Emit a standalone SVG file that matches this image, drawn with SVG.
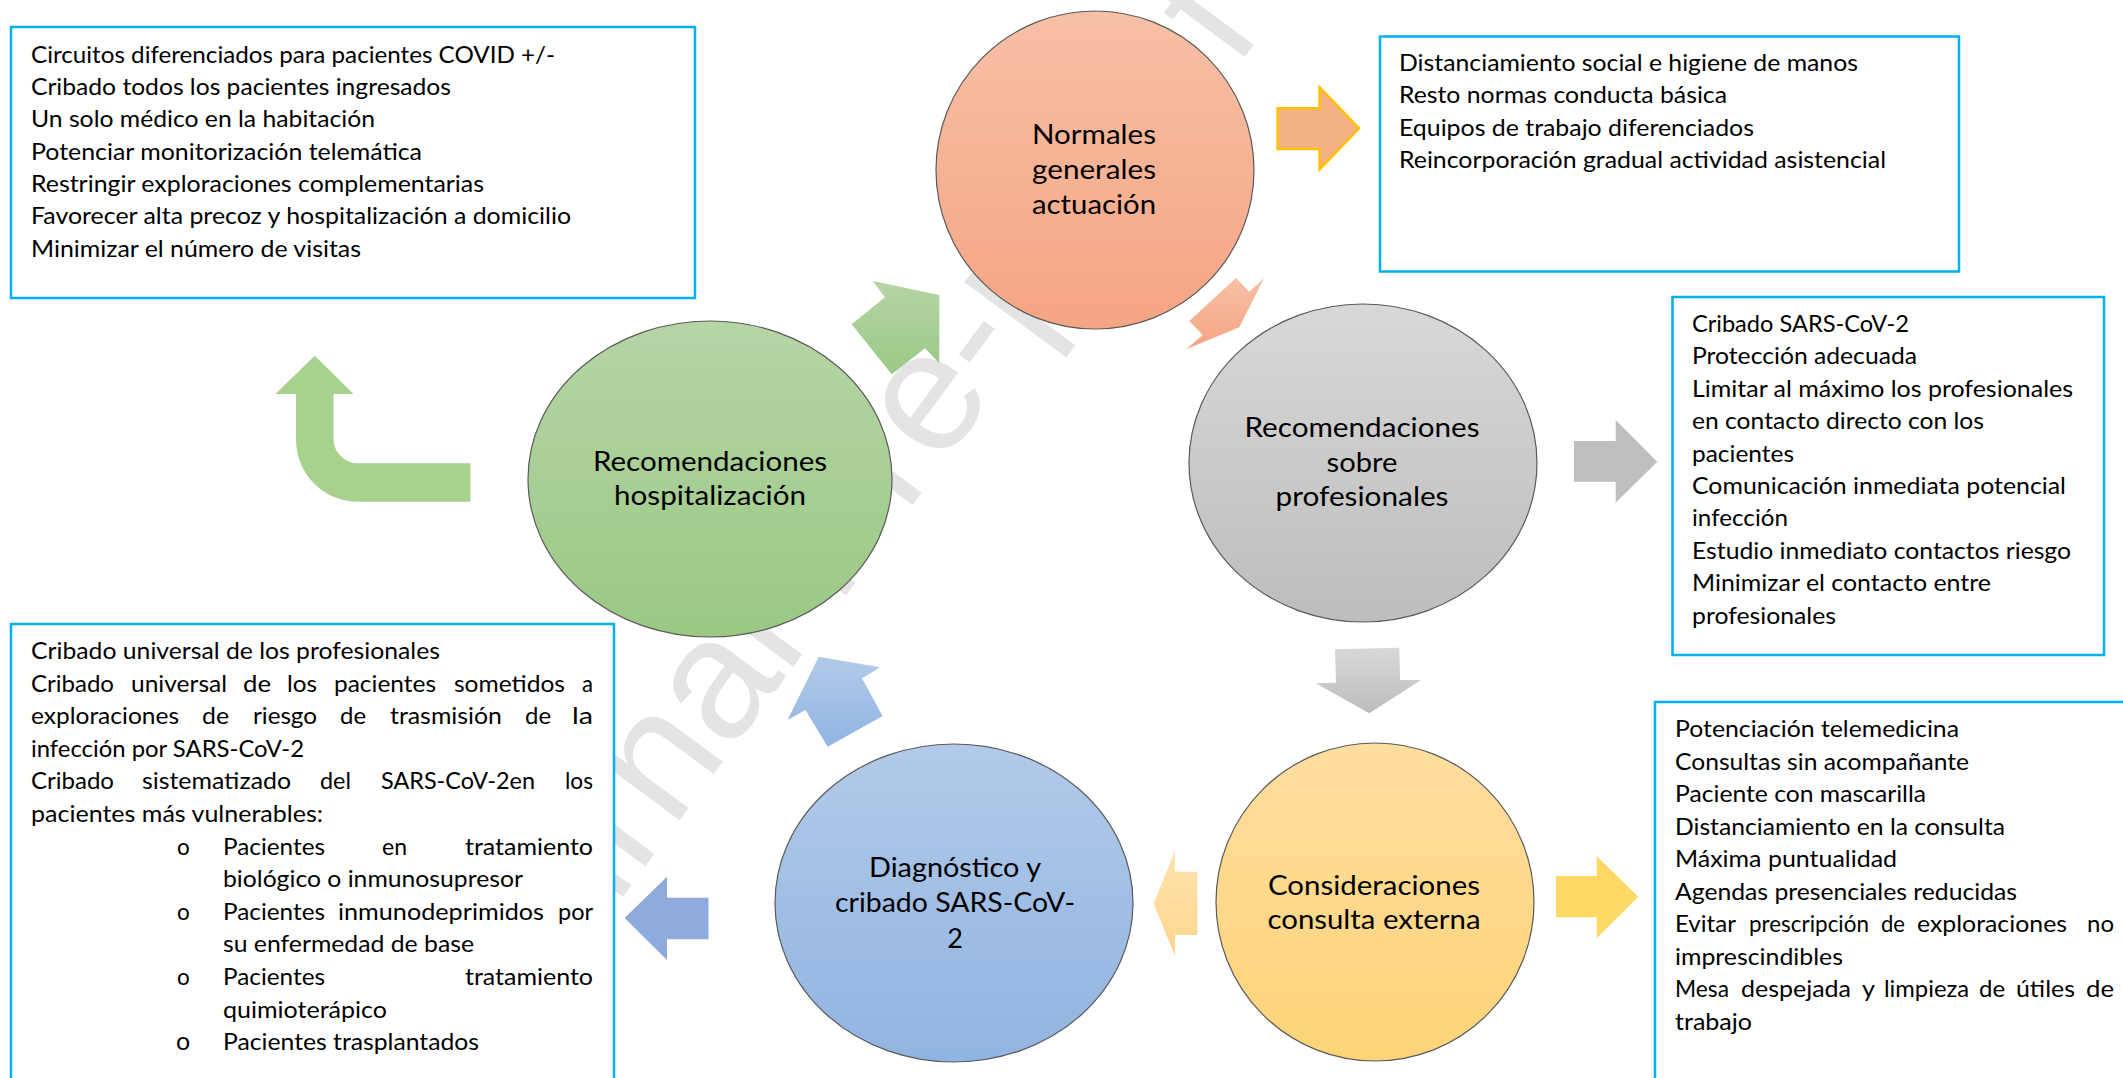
<svg xmlns="http://www.w3.org/2000/svg" width="2123" height="1078" viewBox="0 0 2123 1078">
<style>
.box{fill:#fff;stroke:#00B0F0;stroke-width:2.5}
.t{font-family:Lato,"Open Sans","Liberation Sans",sans-serif;font-size:22.5px;fill:#000}
.c{font-family:Lato,"Open Sans","Liberation Sans",sans-serif;font-size:27px;fill:#000;text-anchor:middle}
.node{stroke:#5a5a5a;stroke-width:1.2}
.wm{font-family:"Liberation Sans",Arial,sans-serif;font-size:172px;fill:#E4E4E4}
</style>
<defs>
<linearGradient id="gO" x1="0" y1="0" x2="0" y2="1"><stop offset="0" stop-color="#F7C0A6"/><stop offset="1" stop-color="#F5A583"/></linearGradient>
<linearGradient id="gG" x1="0" y1="0" x2="0" y2="1"><stop offset="0" stop-color="#B5D5A5"/><stop offset="1" stop-color="#9BC885"/></linearGradient>
<linearGradient id="gS" x1="0" y1="0" x2="0" y2="1"><stop offset="0" stop-color="#D8D8D8"/><stop offset="1" stop-color="#BDBDBD"/></linearGradient>
<linearGradient id="gB" x1="0" y1="0" x2="0" y2="1"><stop offset="0" stop-color="#B2CAE9"/><stop offset="1" stop-color="#90B4E1"/></linearGradient>
<linearGradient id="gY" x1="0" y1="0" x2="0" y2="1"><stop offset="0" stop-color="#FEDE9F"/><stop offset="1" stop-color="#FED478"/></linearGradient>
<linearGradient id="gYl" x1="0" y1="0" x2="0" y2="1"><stop offset="0" stop-color="#FEE3AE"/><stop offset="1" stop-color="#FDD68D"/></linearGradient>
</defs>

<text class="wm" transform="translate(473.4,1098.7) rotate(-53.5)">Journal Pre-proof</text>

<g id="connectors">
<polygon id="arrow-normales-box" points="1277.6,108.3 1319.6,108.3 1319.6,87.3 1359,128.3 1319.6,169.3 1319.6,149 1277.6,149" fill="#F4B183" stroke="#FFC000" stroke-width="2.5"/>
<polygon id="arrow-normales-profesionales" points="1236,278 1249.3,291.7 1264,278.3 1239.3,327.3 1186,349.3 1202.7,335 1189.3,321" fill="url(#gO)"/>
<polygon id="arrow-profesionales-box" points="1574,441 1615.7,441 1615.7,420 1657.3,461.7 1615.7,502.7 1615.7,481.7 1574,481.7" fill="#BFBFBF"/>
<polygon id="arrow-profesionales-consulta" points="1335,649.3 1399.3,647.7 1400,680 1421,680 1369.3,713.3 1315.7,683.3 1336,682.7" fill="url(#gS)"/>
<polygon id="arrow-consulta-box" points="1556,876 1596.7,876 1596.7,856 1638.3,896.7 1596.7,938.3 1596.7,917.3 1556,917.3" fill="#FFD966"/>
<polygon id="arrow-consulta-diagnostico" points="1197.5,871.7 1175,871.7 1175,851 1153.6,903.5 1175,956 1175,935 1197.5,935" fill="url(#gYl)"/>
<polygon id="arrow-diagnostico-box" points="708.5,897.7 667,897.7 667,876.7 624.6,918 667,960 667,939.3 708.5,939.3" fill="#8FAADC"/>
<polygon id="arrow-diagnostico-hospitalizacion" points="787.5,720 818.75,656.7 880,667.3 862,678.3 882.6,716 827.7,746.7 805.4,710" fill="url(#gB)"/>
<polygon id="arrow-hospitalizacion-normales" points="872.7,281 939.3,295 939.3,363.3 925,348.3 891.7,374.3 851.7,324.3 885,297.3" fill="url(#gG)"/>
<path id="arrow-hospitalizacion-box" d="M470.5,463.3 L358,463.3 A24.5,24.5 0 0 1 333.5,438.8 L333.5,394 L353.5,394 L314.7,355.7 L275.4,394 L296,394 L296,440 A62,62 0 0 0 358,501.7 L470.5,501.7 Z" fill="#A9D18E"/>
</g>

<g id="node-normales">
<ellipse class="node" cx="1095" cy="170" rx="159" ry="159" fill="url(#gO)"/>
<text class="c" x="1094" y="144" textLength="124" lengthAdjust="spacingAndGlyphs">Normales</text>
<text class="c" x="1094" y="179" textLength="124" lengthAdjust="spacingAndGlyphs">generales</text>
<text class="c" x="1094" y="214" textLength="124" lengthAdjust="spacingAndGlyphs">actuación</text>
</g>
<g id="node-profesionales">
<ellipse class="node" cx="1363" cy="463" rx="174" ry="159" fill="url(#gS)"/>
<text class="c" x="1362" y="437" textLength="235" lengthAdjust="spacingAndGlyphs">Recomendaciones</text>
<text class="c" x="1362" y="472" textLength="71" lengthAdjust="spacingAndGlyphs">sobre</text>
<text class="c" x="1362" y="506" textLength="173" lengthAdjust="spacingAndGlyphs">profesionales</text>
</g>
<g id="node-consulta">
<ellipse class="node" cx="1375" cy="902" rx="159" ry="159" fill="url(#gY)"/>
<text class="c" x="1374" y="895" textLength="212" lengthAdjust="spacingAndGlyphs">Consideraciones</text>
<text class="c" x="1374" y="929" textLength="213" lengthAdjust="spacingAndGlyphs">consulta externa</text>
</g>
<g id="node-diagnostico">
<ellipse class="node" cx="954" cy="903" rx="179" ry="159" fill="url(#gB)"/>
<text class="c" x="955" y="877" textLength="172" lengthAdjust="spacingAndGlyphs">Diagnóstico y</text>
<text class="c" x="955" y="912" textLength="240" lengthAdjust="spacingAndGlyphs">cribado SARS-CoV-</text>
<text class="c" x="955" y="948">2</text>
</g>
<g id="node-hospitalizacion">
<ellipse class="node" cx="710" cy="479" rx="182" ry="158" fill="url(#gG)"/>
<text class="c" x="710" y="471" textLength="234" lengthAdjust="spacingAndGlyphs">Recomendaciones</text>
<text class="c" x="710" y="505" textLength="192" lengthAdjust="spacingAndGlyphs">hospitalización</text>
</g>

<g id="box-hospitalizacion">
<rect class="box" x="11" y="27" width="684" height="271"/>
<text class="t" x="31" y="62.7" textLength="524" lengthAdjust="spacingAndGlyphs">Circuitos diferenciados para pacientes COVID +/-</text>
<text class="t" x="31" y="95" textLength="420" lengthAdjust="spacingAndGlyphs">Cribado todos los pacientes ingresados</text>
<text class="t" x="31" y="127.3" textLength="344" lengthAdjust="spacingAndGlyphs">Un solo médico en la habitación</text>
<text class="t" x="31" y="159.7" textLength="391" lengthAdjust="spacingAndGlyphs">Potenciar monitorización telemática</text>
<text class="t" x="31" y="192" textLength="453" lengthAdjust="spacingAndGlyphs">Restringir exploraciones complementarias</text>
<text class="t" x="31" y="224.3" textLength="540" lengthAdjust="spacingAndGlyphs">Favorecer alta precoz y hospitalización a domicilio</text>
<text class="t" x="31" y="256.7" textLength="330" lengthAdjust="spacingAndGlyphs">Minimizar el número de visitas</text>
</g>

<g id="box-normales">
<rect class="box" x="1380" y="36.5" width="579" height="235"/>
<text class="t" x="1399" y="71" textLength="459" lengthAdjust="spacingAndGlyphs">Distanciamiento social e higiene de manos</text>
<text class="t" x="1399" y="103.4" textLength="328" lengthAdjust="spacingAndGlyphs">Resto normas conducta básica</text>
<text class="t" x="1399" y="135.8" textLength="355" lengthAdjust="spacingAndGlyphs">Equipos de trabajo diferenciados</text>
<text class="t" x="1399" y="168.2" textLength="487" lengthAdjust="spacingAndGlyphs">Reincorporación gradual actividad asistencial</text>
</g>

<g id="box-profesionales">
<rect class="box" x="1672.5" y="297" width="431.5" height="358"/>
<text class="t" x="1692" y="332" textLength="217" lengthAdjust="spacingAndGlyphs">Cribado SARS-CoV-2</text>
<text class="t" x="1692" y="364.4" textLength="225" lengthAdjust="spacingAndGlyphs">Protección adecuada</text>
<text class="t" x="1692" y="396.8" textLength="381" lengthAdjust="spacingAndGlyphs">Limitar al máximo los profesionales</text>
<text class="t" x="1692" y="429.2" textLength="292" lengthAdjust="spacingAndGlyphs">en contacto directo con los</text>
<text class="t" x="1692" y="461.6" textLength="102" lengthAdjust="spacingAndGlyphs">pacientes</text>
<text class="t" x="1692" y="494" textLength="374" lengthAdjust="spacingAndGlyphs">Comunicación inmediata potencial</text>
<text class="t" x="1692" y="526.4" textLength="96" lengthAdjust="spacingAndGlyphs">infección</text>
<text class="t" x="1692" y="558.8" textLength="379" lengthAdjust="spacingAndGlyphs">Estudio inmediato contactos riesgo</text>
<text class="t" x="1692" y="591.2" textLength="299" lengthAdjust="spacingAndGlyphs">Minimizar el contacto entre</text>
<text class="t" x="1692" y="623.6" textLength="144" lengthAdjust="spacingAndGlyphs">profesionales</text>
</g>

<g id="box-consulta">
<rect class="box" x="1655" y="702" width="500" height="420"/>
<text class="t" x="1675" y="737" textLength="284" lengthAdjust="spacingAndGlyphs">Potenciación telemedicina</text>
<text class="t" x="1675" y="769.5" textLength="294" lengthAdjust="spacingAndGlyphs">Consultas sin acompañante</text>
<text class="t" x="1675" y="802" textLength="251" lengthAdjust="spacingAndGlyphs">Paciente con mascarilla</text>
<text class="t" x="1675" y="834.5" textLength="330" lengthAdjust="spacingAndGlyphs">Distanciamiento en la consulta</text>
<text class="t" x="1675" y="867" textLength="222" lengthAdjust="spacingAndGlyphs">Máxima puntualidad</text>
<text class="t" x="1675" y="899.5" textLength="342" lengthAdjust="spacingAndGlyphs">Agendas presenciales reducidas</text>
<text class="t" y="932"><tspan x="1675" textLength="61" lengthAdjust="spacingAndGlyphs">Evitar</tspan><tspan x="1749" textLength="120" lengthAdjust="spacingAndGlyphs">prescripción</tspan><tspan x="1881" textLength="24" lengthAdjust="spacingAndGlyphs">de</tspan><tspan x="1917" textLength="150" lengthAdjust="spacingAndGlyphs">exploraciones</tspan><tspan x="2087" textLength="27" lengthAdjust="spacingAndGlyphs">no</tspan></text>
<text class="t" x="1675" y="964.5" textLength="168" lengthAdjust="spacingAndGlyphs">imprescindibles</text>
<text class="t" y="997"><tspan x="1675" textLength="54" lengthAdjust="spacingAndGlyphs">Mesa</tspan><tspan x="1741" textLength="110" lengthAdjust="spacingAndGlyphs">despejada</tspan><tspan x="1862" textLength="13" lengthAdjust="spacingAndGlyphs">y</tspan><tspan x="1884" textLength="85" lengthAdjust="spacingAndGlyphs">limpieza</tspan><tspan x="1979" textLength="26" lengthAdjust="spacingAndGlyphs">de</tspan><tspan x="2016" textLength="59" lengthAdjust="spacingAndGlyphs">útiles</tspan><tspan x="2086" textLength="28" lengthAdjust="spacingAndGlyphs">de</tspan></text>
<text class="t" x="1675" y="1029.5" textLength="77" lengthAdjust="spacingAndGlyphs">trabajo</text>
</g>

<g id="box-diagnostico">
<rect class="box" x="11" y="624" width="603" height="480"/>
<text class="t" x="31" y="659" textLength="409" lengthAdjust="spacingAndGlyphs">Cribado universal de los profesionales</text>
<text class="t" y="691.6"><tspan x="31" textLength="83" lengthAdjust="spacingAndGlyphs">Cribado</tspan><tspan x="131" textLength="96" lengthAdjust="spacingAndGlyphs">universal</tspan><tspan x="243" textLength="28" lengthAdjust="spacingAndGlyphs">de</tspan><tspan x="287" textLength="30" lengthAdjust="spacingAndGlyphs">los</tspan><tspan x="334" textLength="102" lengthAdjust="spacingAndGlyphs">pacientes</tspan><tspan x="454" textLength="111" lengthAdjust="spacingAndGlyphs">sometidos</tspan><tspan x="582" textLength="11" lengthAdjust="spacingAndGlyphs">a</tspan></text>
<text class="t" y="724.2"><tspan x="31" textLength="148" lengthAdjust="spacingAndGlyphs">exploraciones</tspan><tspan x="202" textLength="27" lengthAdjust="spacingAndGlyphs">de</tspan><tspan x="253" textLength="64" lengthAdjust="spacingAndGlyphs">riesgo</tspan><tspan x="340" textLength="26" lengthAdjust="spacingAndGlyphs">de</tspan><tspan x="390" textLength="112" lengthAdjust="spacingAndGlyphs">trasmisión</tspan><tspan x="525" textLength="26" lengthAdjust="spacingAndGlyphs">de</tspan><tspan x="572" textLength="21" lengthAdjust="spacingAndGlyphs">la</tspan></text>
<text class="t" x="31" y="756.8" textLength="273" lengthAdjust="spacingAndGlyphs">infección por SARS-CoV-2</text>
<text class="t" y="789.4"><tspan x="31" textLength="83" lengthAdjust="spacingAndGlyphs">Cribado</tspan><tspan x="142" textLength="149" lengthAdjust="spacingAndGlyphs">sistematizado</tspan><tspan x="320" textLength="31" lengthAdjust="spacingAndGlyphs">del</tspan><tspan x="381" textLength="154" lengthAdjust="spacingAndGlyphs">SARS-CoV-2en</tspan><tspan x="565" textLength="28" lengthAdjust="spacingAndGlyphs">los</tspan></text>
<text class="t" x="31" y="822" textLength="292" lengthAdjust="spacingAndGlyphs">pacientes más vulnerables:</text>
<text class="t" x="177" y="854.6">o</text>
<text class="t" y="854.6"><tspan x="223" textLength="102" lengthAdjust="spacingAndGlyphs">Pacientes</tspan><tspan x="382" textLength="25" lengthAdjust="spacingAndGlyphs">en</tspan><tspan x="465" textLength="128" lengthAdjust="spacingAndGlyphs">tratamiento</tspan></text>
<text class="t" x="223" y="887.2" textLength="300" lengthAdjust="spacingAndGlyphs">biológico o inmunosupresor</text>
<text class="t" x="177" y="919.8">o</text>
<text class="t" y="919.8"><tspan x="223" textLength="102" lengthAdjust="spacingAndGlyphs">Pacientes</tspan><tspan x="338" textLength="206" lengthAdjust="spacingAndGlyphs">inmunodeprimidos</tspan><tspan x="558" textLength="35" lengthAdjust="spacingAndGlyphs">por</tspan></text>
<text class="t" x="223" y="952.4" textLength="251" lengthAdjust="spacingAndGlyphs">su enfermedad de base</text>
<text class="t" x="177" y="985">o</text>
<text class="t" y="985"><tspan x="223" textLength="102" lengthAdjust="spacingAndGlyphs">Pacientes</tspan><tspan x="465" textLength="128" lengthAdjust="spacingAndGlyphs">tratamiento</tspan></text>
<text class="t" x="223" y="1017.6" textLength="164" lengthAdjust="spacingAndGlyphs">quimioterápico</text>
<text class="t" x="176" y="1050.2" style="font-size:25px">o</text>
<text class="t" x="223" y="1050.2" textLength="256" lengthAdjust="spacingAndGlyphs">Pacientes trasplantados</text>
</g>
</svg>
